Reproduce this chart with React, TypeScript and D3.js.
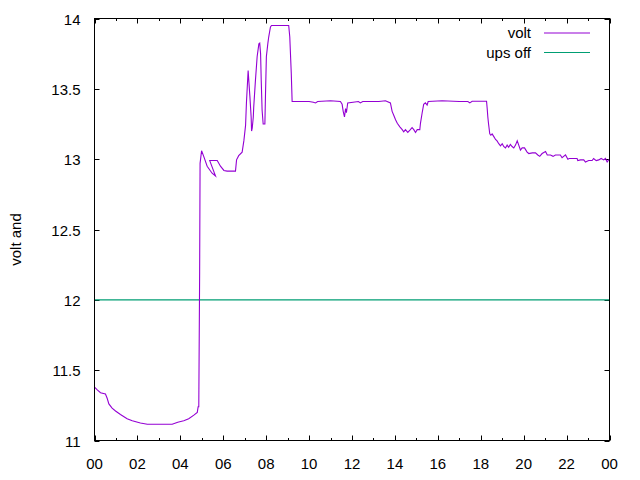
import React, { useEffect, useRef } from "react";
import * as d3 from "d3";

// hours since midnight (one backward step near 05:30 is in the source data)
const hours = [
  0.0, 0.13, 0.28, 0.51, 0.59, 0.67, 0.82, 0.98, 1.21, 1.52, 1.76, 2.14, 2.46, 2.92, 3.62, 3.88,
  4.16, 4.39, 4.63, 4.79, 4.83, 4.86, 4.9, 4.92, 4.99, 5.09, 5.25, 5.48, 5.64, 5.37, 5.72, 5.87,
  6.03, 6.18, 6.57, 6.62, 6.72, 6.88, 6.96, 7.04, 7.08, 7.16, 7.19, 7.24, 7.3, 7.32, 7.35, 7.4,
  7.42, 7.5, 7.58, 7.66, 7.7, 7.74, 7.77, 7.81, 7.86, 7.94, 7.97, 8.01, 8.08, 8.12, 8.2, 8.25,
  9.05, 9.1, 9.17, 9.21, 10.0, 10.2, 10.3, 10.4, 11.0, 11.46, 11.54, 11.59, 11.65, 11.7, 11.74,
  11.8, 12.3, 12.39, 12.5, 13.25, 13.56, 13.79, 13.87, 13.95, 14.03, 14.11, 14.23, 14.34, 14.41,
  14.49, 14.6, 14.72, 14.8, 14.88, 14.96, 15.04, 15.16, 15.19, 15.27, 15.34, 15.42, 15.5, 15.55,
  16.2, 17.0, 17.4, 17.49, 17.6, 18.27, 18.3, 18.33, 18.36, 18.42, 18.47, 18.53, 18.61, 18.69,
  18.76, 18.84, 18.92, 19.0, 19.07, 19.15, 19.23, 19.3, 19.38, 19.46, 19.54, 19.62, 19.7, 19.77,
  19.85, 19.93, 20.04, 20.16, 20.24, 20.4, 20.55, 20.66, 20.75, 20.86, 21.02, 21.1, 21.25, 21.37,
  21.48, 21.71, 21.79, 21.95, 22.06, 22.12, 22.26, 22.49, 22.52, 22.65, 22.8, 22.88, 23.03, 23.19,
  23.26, 23.38, 23.5, 23.61, 23.73, 23.81, 23.89, 23.96, 24.0,
];

const volts = [
  11.38, 11.36, 11.34, 11.33, 11.3, 11.26, 11.23, 11.21, 11.185, 11.155, 11.14, 11.125, 11.115,
  11.115, 11.115, 11.13, 11.14, 11.155, 11.18, 11.2, 11.24, 11.24, 12.2, 12.97, 13.06, 13.02,
  12.95, 12.9, 12.88, 12.99, 12.99, 12.95, 12.92, 12.915, 12.915, 12.995, 13.025, 13.05, 13.13,
  13.24, 13.4, 13.63, 13.56, 13.45, 13.3, 13.2, 13.22, 13.3, 13.37, 13.56, 13.73, 13.82, 13.825,
  13.75, 13.56, 13.35, 13.25, 13.25, 13.47, 13.73, 13.825, 13.87, 13.94, 13.95, 13.95, 13.87,
  13.61, 13.41, 13.41, 13.405, 13.4, 13.41, 13.415, 13.41, 13.39, 13.34, 13.3, 13.36, 13.33, 13.4,
  13.41, 13.4, 13.41, 13.41, 13.415, 13.4, 13.34, 13.31, 13.28, 13.255, 13.23, 13.21, 13.195,
  13.21, 13.19, 13.21, 13.225, 13.21, 13.19, 13.21, 13.21, 13.255, 13.33, 13.39, 13.4, 13.385,
  13.41, 13.415, 13.41, 13.41, 13.4, 13.412, 13.412, 13.36, 13.3, 13.255, 13.18, 13.17, 13.18,
  13.16, 13.14, 13.13, 13.11, 13.095, 13.11, 13.09, 13.08, 13.1, 13.085, 13.105, 13.09, 13.08,
  13.1, 13.13, 13.1, 13.065, 13.08, 13.08, 13.05, 13.04, 13.045, 13.045, 13.03, 13.02, 13.04,
  13.055, 13.03, 13.03, 13.02, 13.03, 13.03, 13.01, 13.03, 13.0, 13.005, 13.005, 13.005, 12.99,
  12.995, 12.995, 12.98, 12.99, 12.99, 13.005, 12.99, 12.995, 13.005, 12.995, 13.005, 12.98,
  12.995, 12.995,
];

const upsOff = 12;
const yTicks = [11, 11.5, 12, 12.5, 13, 13.5, 14];
const xMajorTicks = [0, 2, 4, 6, 8, 10, 12, 14, 16, 18, 20, 22, 24];
const xTickLabels = ["00", "02", "04", "06", "08", "10", "12", "14", "16", "18", "20", "22", "00"];
const seriesNames = ["volt", "ups off"];
const seriesColors = ["#9400d3", "#009e73"];

export default function App() {
  const ref = useRef<SVGSVGElement>(null);

  useEffect(() => {
    const width = 640;
    const height = 480;
    const left = 94.5;
    const right = 609.5;
    const top = 18.5;
    const bottom = 440.5;
    const font = "'Liberation Sans', Arial, sans-serif";
    const fs = 15;

    const svg = d3.select(ref.current);
    svg.selectAll("*").remove();
    svg.attr("width", width).attr("height", height);

    svg.append("rect").attr("width", width).attr("height", height).attr("fill", "#fff");

    const x = d3.scaleLinear().domain([0, 24]).range([left, right]);
    const y = d3.scaleLinear().domain([11, 14]).range([bottom, top]);

    const g = svg.append("g");

    // y ticks (mirrored on the right)
    yTicks.forEach((t) => {
      const yy = Math.round(y(t)) + 0.5;
      g.append("line").attr("x1", left).attr("x2", left + 5).attr("y1", yy).attr("y2", yy)
        .attr("stroke", "#000");
      g.append("line").attr("x1", right).attr("x2", right - 5).attr("y1", yy).attr("y2", yy)
        .attr("stroke", "#000");
      g.append("text").attr("x", left - 14).attr("y", yy + 5).attr("text-anchor", "end")
        .attr("font-family", font).attr("font-size", fs).text(String(t));
    });

    // x ticks: major every 2 h, minor every hour, mirrored on top
    d3.range(0, 25).forEach((h) => {
      const xx = Math.round(x(h)) + 0.5;
      const len = h % 2 === 0 ? 5 : 2.5;
      g.append("line").attr("x1", xx).attr("x2", xx).attr("y1", bottom).attr("y2", bottom - len)
        .attr("stroke", "#000");
      g.append("line").attr("x1", xx).attr("x2", xx).attr("y1", top).attr("y2", top + len)
        .attr("stroke", "#000");
    });
    xMajorTicks.forEach((h, i) => {
      g.append("text").attr("x", x(h)).attr("y", bottom + 28).attr("text-anchor", "middle")
        .attr("font-family", font).attr("font-size", fs).text(xTickLabels[i]);
    });

    // y label
    g.append("text")
      .attr("transform", `translate(21, ${(top + bottom) / 2 + 10}) rotate(-90)`)
      .attr("text-anchor", "middle").attr("font-family", font).attr("font-size", fs)
      .text("volt and");

    // series
    const pts: [number, number][] = hours.map((h, i) => [h, volts[i]]);
    const line = d3.line<[number, number]>().x((d) => x(d[0])).y((d) => y(d[1]));

    g.append("line").attr("x1", left).attr("x2", right)
      .attr("y1", y(upsOff)).attr("y2", y(upsOff))
      .attr("stroke", seriesColors[1]).attr("stroke-width", 1.1);

    g.append("path").datum(pts).attr("d", line).attr("fill", "none")
      .attr("stroke", seriesColors[0]).attr("stroke-width", 1.1)
      .attr("stroke-linejoin", "miter");

    // legend
    seriesNames.forEach((name, i) => {
      const ly = 33 + i * 19.5;
      g.append("text").attr("x", 531).attr("y", ly + 5).attr("text-anchor", "end")
        .attr("font-family", font).attr("font-size", fs).text(name);
      g.append("line").attr("x1", 544).attr("x2", 590).attr("y1", ly).attr("y2", ly)
        .attr("stroke", seriesColors[i]).attr("stroke-width", 1.1);
    });

    // border
    g.append("rect").attr("x", left).attr("y", top).attr("width", right - left)
      .attr("height", bottom - top).attr("fill", "none").attr("stroke", "#000");
  }, []);

  return (
    <div style={{ margin: -8 }}>
      <svg ref={ref} style={{ display: "block" }}></svg>
    </div>
  );
}
